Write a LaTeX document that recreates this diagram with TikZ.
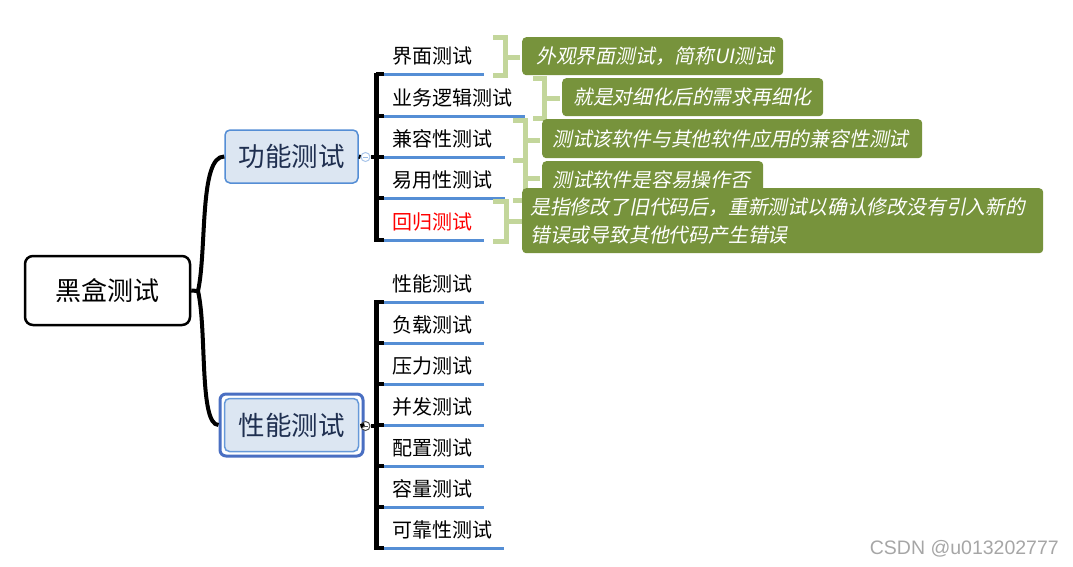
\documentclass[tikz,border=0pt]{standalone}
\usepackage{fontspec}
\setmainfont{Liberation Sans}
\newfontfamily\cjk{Noto Sans CJK SC}
\newfontfamily\cjkit{Noto Sans CJK SC}[FakeSlant=0.2]
\definecolor{boxfill}{HTML}{DCE6F2}
\definecolor{boxline}{HTML}{558ED5}
\definecolor{boxouter}{HTML}{4A6FC2}
\definecolor{navy}{HTML}{1F2F50}
\definecolor{uline}{HTML}{558ED5}
\definecolor{callout}{HTML}{77933C}
\definecolor{bracecol}{HTML}{C3D69B}
\definecolor{wmark}{HTML}{A6A6A6}
\tikzset{
  rootbox/.style={draw=black, line width=2.5pt, rounded corners=8pt, fill=white,
    minimum width=165pt, minimum height=69pt, inner sep=0pt,
    font=\cjk\fontsize{26}{30}\selectfont},
  topicbox/.style={draw=boxline, line width=1.5pt, rounded corners=5pt, fill=boxfill,
    minimum width=133pt, minimum height=53pt, inner sep=0pt, text=navy,
    font=\cjk\fontsize{26.5}{30}\selectfont},
  item/.style={anchor=west, inner sep=0pt, font=\cjk\fontsize{20}{24}\selectfont},
  uln/.style={draw=uline, line width=3pt},
  bar/.style={draw=black, line width=5pt},
  tick/.style={draw=black, line width=4pt},
  trunk/.style={draw=black, line width=4pt},
  note/.style={fill=callout, rounded corners=4pt, text=white, anchor=north west,
    inner xsep=0pt, inner ysep=0pt, align=left,
    font=\cjkit\fontsize{19.8}{28}\selectfont},
  bracket/.style={draw=bracecol, line width=5pt},
  knob/.style={circle, fill=white, line width=1pt, minimum size=9pt, inner sep=0pt},
}
\begin{document}
\begin{tikzpicture}[x=1pt,y=-1pt]
\useasboundingbox (0,0) rectangle (1073,566);

% root
\node[rootbox] (root) at (107.5,290.5) {黑盒测试};
\coordinate (rj) at (198,291);
\draw[trunk] (root.east) -- (rj);

% functional topic
\node[topicbox] (func) at (291.5,156.5) {功能测试};
% performance topic (double border)
\node[draw=boxouter, line width=3pt, rounded corners=6pt, fill=white,
      minimum width=143pt, minimum height=62pt] (perfo) at (291.5,425) {};
\node[topicbox, draw=boxline!90, minimum width=134pt, minimum height=53pt] (perf) at (291.5,425) {性能测试};

\draw[trunk] (rj) .. controls (207,250) and (199,156) .. (func.west);
\draw[trunk] (rj) .. controls (207,330) and (199,425) .. (perfo.west);

% knobs and bars
\coordinate (fbt) at (376,72.5);
\coordinate (fbb) at (376,242);
\coordinate (pbt) at (376,300);
\coordinate (pbb) at (376,550);
\draw[bar] (fbt) -- (fbb);
\draw[bar] (pbt) -- (pbb);
\node[knob, draw=boxline!50] (fk) at (365.5,157) {};
\node[knob, draw=black!70] (pk) at (365.5,426) {};
\draw[tick] (func.east) -- (fk.west);
\draw[tick] (fk.east) -- (376,157);
\draw[tick] (perfo.east) -- (pk.west);
\draw[tick] (pk.east) -- (376,426);
\draw[line width=0.8pt, draw=boxline!60] ([xshift=-2.5pt]fk.center) -- ([xshift=2.5pt]fk.center);
\draw[line width=0.8pt, draw=black!70] ([xshift=-2.5pt]pk.center) -- ([xshift=2.5pt]pk.center);

% functional items
\foreach \n/\y/\t/\e/\c in {f1/74/界面测试/484/black, f2/116/业务逻辑测试/525/black, f3/157/兼容性测试/505/black, f4/198/易用性测试/505/black, f5/240/回归测试/484/red} {
  \node[item, text=\c] (\n) at (392,\y-18) {\t};
  \coordinate (\n s) at (376,\y);
  \coordinate (\n m) at (384,\y);
  \coordinate (\n e) at (\e,\y);
  \draw[tick] (\n s) -- (\n m);
  \draw[uln] (\n m) -- (\n e);
}
% performance items
\foreach \n/\y/\t/\e in {p1/302/性能测试/484, p2/343/负载测试/484, p3/384/压力测试/484, p4/425/并发测试/484, p5/466/配置测试/484, p6/507/容量测试/484, p7/548/可靠性测试/504} {
  \node[item] (\n) at (392,\y-18) {\t};
  \coordinate (\n s) at (376,\y);
  \coordinate (\n m) at (384,\y);
  \coordinate (\n e) at (\e,\y);
  \draw[tick] (\n s) -- (\n m);
  \draw[uln] (\n m) -- (\n e);
}

% braces
\draw[bracket] (493,37) -- (505,37) -- (505,75) -- (493,75);
\draw[bracket] (505,57) -- (520,57);
\draw[bracket] (533,78) -- (544,78) -- (544,118) -- (533,118);
\draw[bracket] (544,98) -- (560,98);
\draw[bracket] (513,120) -- (525,120) -- (525,200) -- (513,200);
\draw[bracket] (513,160) -- (525,160);
\draw[bracket] (525,140) -- (540,140);
\draw[bracket] (525,178) -- (540,178);
\draw[bracket] (493,201) -- (506,201) -- (506,241) -- (493,241);
\draw[bracket] (506,221) -- (522,221);

% callouts
\node[note, minimum width=261pt, minimum height=38pt, text width=261pt] (c1) at (522,37)
  {\hspace*{14pt}外观界面测试，简称UI测试};
\node[note, minimum width=261pt, minimum height=38pt, text width=261pt] (c2) at (562,78)
  {\hspace*{11pt}就是对细化后的需求再细化};
\node[note, minimum width=380pt, minimum height=39pt, text width=380pt] (c3) at (542,119)
  {\hspace*{10pt}测试该软件与其他软件应用的兼容性测试};
\node[note, minimum width=221pt, minimum height=38pt, text width=221pt] (c4) at (542,161)
  {\hspace*{10pt}测试软件是容易操作否};
\node[note, minimum width=521pt, minimum height=65pt, text width=521pt] (c5) at (522,188)
  {\hspace*{8pt}是指修改了旧代码后，重新测试以确认修改没有引入新的\\\hspace*{8pt}错误或导致其他代码产生错误};

% watermark
\node[text=wmark, font=\fontsize{19.5}{22}\selectfont, anchor=east, inner sep=0pt] (wm) at (1059,549) {CSDN @u013202777};
\end{tikzpicture}
\end{document}
